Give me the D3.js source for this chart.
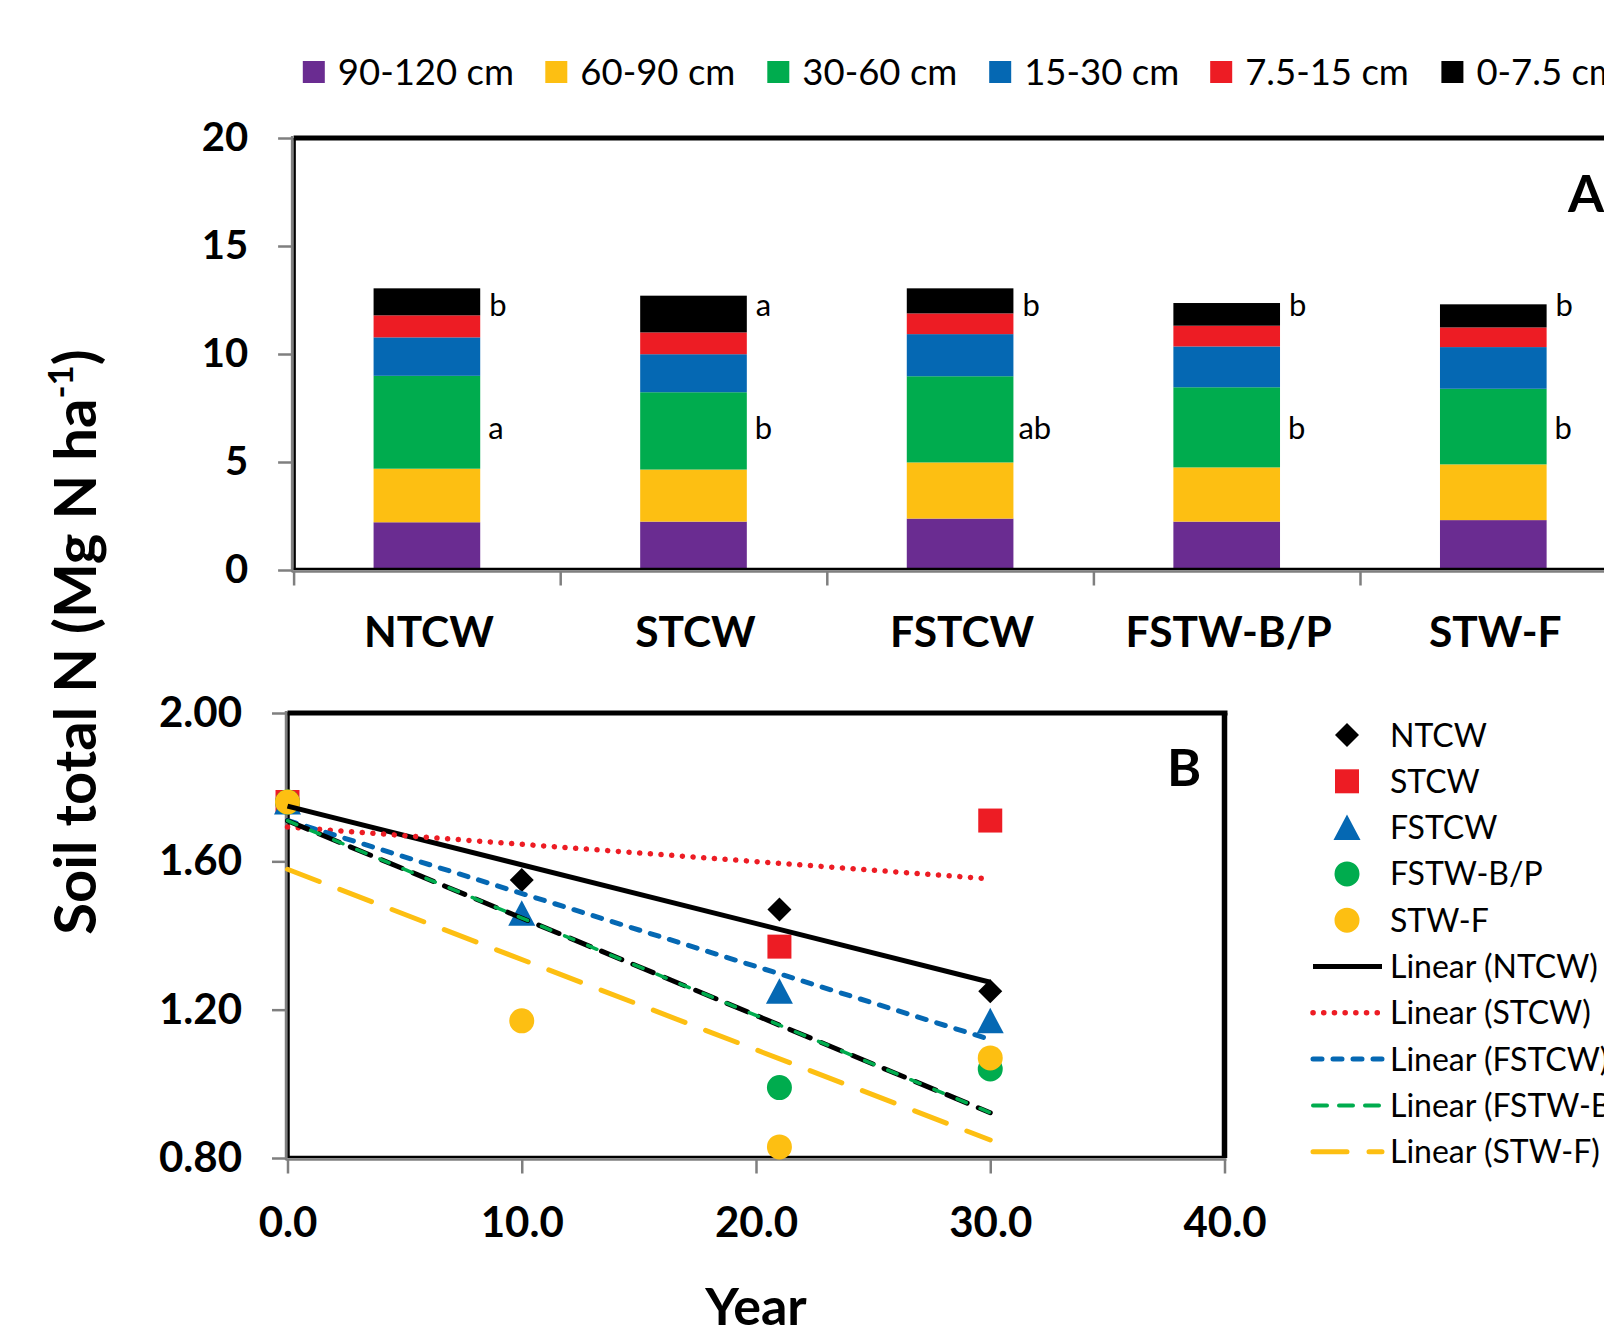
<!DOCTYPE html>
<html><head><meta charset="utf-8">
<script src="https://cdn.jsdelivr.net/npm/d3@7"></script>
<style>
body{margin:0;background:#fff;}
svg{display:block;font-family:Lato,"Open Sans",sans-serif;}
</style>
</head><body>
<svg id="c" width="1604" height="1333"></svg>
<script>
// ---------- Panel A data ----------
const categories = ["NTCW","STCW","FSTCW","FSTW-B/P","STW-F"];
const depthLayers = ["90-120 cm","60-90 cm","30-60 cm","15-30 cm","7.5-15 cm","0-7.5 cm"];
const layerColors = ["#6A2C91","#FDBF12","#00AC4E","#0568B3","#ED1C24","#000000"];
const layer90_120 = [2.21,2.24,2.38,2.24,2.31];
const layer60_90  = [2.48,2.41,2.60,2.51,2.58];
const layer30_60  = [4.30,3.58,3.99,3.71,3.50];
const layer15_30  = [1.78,1.76,1.95,1.89,1.93];
const layer7_15   = [1.02,1.01,0.96,0.96,0.91];
const layer0_7    = [1.25,1.70,1.16,1.05,1.07];
const topLetters = ["b","a","b","b","b"];
const midLetters = ["a","b","ab","b","b"];
const barTicks = [0,5,10,15,20];

// ---------- Panel B data ----------
const seriesNames = ["NTCW","STCW","FSTCW","FSTW-B/P","STW-F"];
const yearsNTCW = [0,10,21,30];    const valsNTCW = [1.76,1.55,1.47,1.25];
const yearsSTCW = [0,21,30];       const valsSTCW = [1.76,1.37,1.71];
const yearsFSTCW = [0,10,21,30];   const valsFSTCW = [1.76,1.46,1.25,1.17];
const yearsFSTWBP = [0,21,30];     const valsFSTWBP = [1.76,0.99,1.04];
const yearsSTWF = [0,10,21,30];    const valsSTWF = [1.76,1.17,0.83,1.07];
const yearTicks = [0,10,20,30,40];
const nTicks = [0.80,1.20,1.60,2.00];

const svg = d3.select("#c");
const FONT = 'Lato,"Open Sans",sans-serif';
const GRAY = "#7f7f7f";

// ================= Panel A =================
const A = {left:293.6, top:138, bottom:570, step:266.6};
const xCat = d3.scaleBand().domain(categories)
  .range([A.left, A.left + A.step*categories.length]).padding(0);
const xEdge = d3.scaleLinear().domain([0,categories.length])
  .range([A.left, A.left + A.step*categories.length]);
const yBar = d3.scaleLinear().domain([0,20]).range([A.bottom, A.top]);

const layerArrays = [layer90_120,layer60_90,layer30_60,layer15_30,layer7_15,layer0_7];
const rows = categories.map((c,i)=>{
  const r = {cat:c};
  depthLayers.forEach((k,j)=>{ r[k] = layerArrays[j][i]; });
  return r;
});
const stacked = d3.stack().keys(depthLayers)(rows);
const bw = xCat.bandwidth();

const gBars = svg.append("g");
stacked.forEach((layer,j)=>{
  gBars.selectAll(null).data(layer).enter().append("rect")
    .attr("x", d=>xCat(d.data.cat)+0.3*bw)
    .attr("width", 0.4*bw)
    .attr("y", d=>yBar(d[1]))
    .attr("height", d=>yBar(d[0])-yBar(d[1]))
    .attr("fill", layerColors[j]);
});

// frame A
svg.append("line").attr("x1",A.left).attr("x2",1610).attr("y1",A.top).attr("y2",A.top)
  .attr("stroke","#000").attr("stroke-width",5);
svg.append("line").attr("x1",A.left+1).attr("x2",A.left+1).attr("y1",A.top).attr("y2",A.bottom)
  .attr("stroke","#000").attr("stroke-width",2.5);
svg.append("line").attr("x1",A.left).attr("x2",1610).attr("y1",A.bottom-1).attr("y2",A.bottom-1)
  .attr("stroke","#000").attr("stroke-width",2.5);
svg.append("line").attr("x1",A.left-1.5).attr("x2",A.left-1.5).attr("y1",A.top-2).attr("y2",A.bottom+2)
  .attr("stroke",GRAY).attr("stroke-width",2.5);
svg.append("line").attr("x1",A.left-2).attr("x2",1610).attr("y1",A.bottom+1.5).attr("y2",A.bottom+1.5)
  .attr("stroke",GRAY).attr("stroke-width",2.5);

// y axis A
const gyA = svg.append("g").attr("transform",`translate(${A.left-1.5},0)`)
  .call(d3.axisLeft(yBar).tickValues(barTicks).tickSize(14).tickPadding(30).tickFormat(d3.format("d")));
gyA.select(".domain").remove();
gyA.attr("font-family",FONT).attr("font-size",40).attr("font-weight",700);
gyA.selectAll(".tick line").attr("stroke",GRAY).attr("stroke-width",2.5);
gyA.selectAll(".tick text").attr("fill","#000");

// x axis ticks A
const gxA = svg.append("g").attr("transform",`translate(0,${A.bottom+1.5})`)
  .call(d3.axisBottom(xEdge).tickValues(d3.range(0,categories.length+1)).tickSize(14).tickFormat(""));
gxA.select(".domain").remove();
gxA.selectAll(".tick line").attr("stroke",GRAY).attr("stroke-width",2.5);

// category labels
svg.append("g").selectAll("text").data(categories).enter().append("text")
  .attr("x", d=>xCat(d)+bw/2+2).attr("y", 647)
  .attr("text-anchor","middle").attr("font-size",42.5).attr("font-weight",700)
  .text(d=>d);

// significance letters
svg.append("g").selectAll("text").data(topLetters).enter().append("text")
  .attr("x", (d,i)=>xCat(categories[i])+0.7*bw+9).attr("y", 316)
  .attr("font-size",31).text(d=>d);
svg.append("g").selectAll("text").data(midLetters).enter().append("text")
  .attr("x", (d,i)=>xCat(categories[i])+0.7*bw+(d==="ab"?5:8)).attr("y", 439)
  .attr("font-size",31).text(d=>d);

svg.append("text").attr("x",1568).attr("y",212).attr("font-size",52).attr("font-weight",700).text("A");

// legend A
const legendAX = [302.8, 545.3, 767.3, 989.2, 1210.2, 1441.4];
const legA = svg.append("g");
depthLayers.forEach((name,j)=>{
  const lx = legendAX[j];
  legA.append("rect").attr("x",lx).attr("y",61).attr("width",22).attr("height",22).attr("fill",layerColors[j]);
  legA.append("text").attr("x",lx+35).attr("y",84.5).attr("font-size",36.5).text(name);
});

// ================= Panel B =================
const B = {left:287.5, right:1224.5, top:713, bottom:1158};
const xYear = d3.scaleLinear().domain([0,40]).range([B.left,B.right]);
const yN = d3.scaleLinear().domain([0.8,2.0]).range([B.bottom,B.top]);

// frame B
svg.append("rect").attr("x",B.left+1).attr("y",B.top).attr("width",B.right-B.left-1).attr("height",B.bottom-B.top-1)
  .attr("fill","none").attr("stroke","#000").attr("stroke-width",2.5);
svg.append("line").attr("x1",B.left).attr("x2",B.right+3).attr("y1",B.top).attr("y2",B.top)
  .attr("stroke","#000").attr("stroke-width",5);
svg.append("line").attr("x1",B.right).attr("x2",B.right).attr("y1",B.top).attr("y2",B.bottom)
  .attr("stroke","#000").attr("stroke-width",5.5);
svg.append("line").attr("x1",B.left-1.5).attr("x2",B.left-1.5).attr("y1",B.top-2).attr("y2",B.bottom+2)
  .attr("stroke",GRAY).attr("stroke-width",2.5);
svg.append("line").attr("x1",B.left-2).attr("x2",B.right+2).attr("y1",B.bottom+1.5).attr("y2",B.bottom+1.5)
  .attr("stroke",GRAY).attr("stroke-width",2.5);

const gyB = svg.append("g").attr("transform",`translate(${B.left-1.5},0)`)
  .call(d3.axisLeft(yN).tickValues(nTicks).tickSize(14).tickPadding(30).tickFormat(d3.format(".2f")));
gyB.select(".domain").remove();
gyB.attr("font-family",FONT).attr("font-size",42).attr("font-weight",700);
gyB.selectAll(".tick line").attr("stroke",GRAY).attr("stroke-width",2.5);
gyB.selectAll(".tick text").attr("fill","#000");

const gxB = svg.append("g").attr("transform",`translate(0,${B.bottom+1.5})`)
  .call(d3.axisBottom(xYear).tickValues(yearTicks).tickSize(14).tickPadding(34).tickFormat(d3.format(".1f")));
gxB.select(".domain").remove();
gxB.attr("font-family",FONT).attr("font-size",42).attr("font-weight",700);
gxB.selectAll(".tick line").attr("stroke",GRAY).attr("stroke-width",2.5);
gxB.selectAll(".tick text").attr("fill","#000");

svg.append("text").attr("x",1167).attr("y",786).attr("font-size",52).attr("font-weight",700).text("B");

// marker shapes
function markerPath(shape, cx, cy){
  const p = d3.path();
  if(shape==="diamond"){ const r=12; p.moveTo(cx,cy-r); p.lineTo(cx+r,cy); p.lineTo(cx,cy+r); p.lineTo(cx-r,cy); p.closePath(); }
  else if(shape==="square"){ const r=12; p.rect(cx-r,cy-r,2*r,2*r); }
  else if(shape==="triangle"){ p.moveTo(cx,cy-13); p.lineTo(cx+13.5,cy+12.5); p.lineTo(cx-13.5,cy+12.5); p.closePath(); }
  else { p.arc(cx,cy,12.5,0,2*Math.PI); }
  return p.toString();
}

const series = [
  {name:seriesNames[0], xs:yearsNTCW,  ys:valsNTCW,  color:"#000000", shape:"diamond",
   styles:[{stroke:"#000",w:5,dash:null,cap:"butt"}], leg:{stroke:"#000",w:5,dash:null,cap:"butt"}},
  {name:seriesNames[1], xs:yearsSTCW,  ys:valsSTCW,  color:"#ED1C24", shape:"square",
   styles:[{stroke:"#ED1C24",w:5.5,dash:"0.1,10.6",cap:"round"}], leg:{stroke:"#ED1C24",w:5.5,dash:"0.1,10.6",cap:"round"}},
  {name:seriesNames[2], xs:yearsFSTCW, ys:valsFSTCW, color:"#0568B3", shape:"triangle",
   styles:[{stroke:"#0568B3",w:5,dash:"9,11",cap:"round"}], leg:{stroke:"#0568B3",w:5,dash:"9,11",cap:"round"}},
  {name:seriesNames[3], xs:yearsFSTWBP,ys:valsFSTWBP,color:"#00AC4E", shape:"circle",
   styles:[{stroke:"#000",w:5,dash:"22,12",cap:"round"},{stroke:"#00AC4E",w:3.5,dash:"10,15",cap:"round"}],
   leg:{stroke:"#00AC4E",w:4,dash:"14,12",cap:"round"}},
  {name:seriesNames[4], xs:yearsSTWF,  ys:valsSTWF,  color:"#FDBF12", shape:"circle",
   styles:[{stroke:"#FDBF12",w:5,dash:"34,22",cap:"round"}], leg:{stroke:"#FDBF12",w:5,dash:"34,22",cap:"round"}}
];

function linreg(xs, ys){
  const mx = d3.mean(xs), my = d3.mean(ys);
  const b = d3.sum(xs,(x,i)=>(x-mx)*(ys[i]-my)) / d3.sum(xs,x=>(x-mx)*(x-mx));
  return {a: my-b*mx, b: b};
}

// markers
const gPts = svg.append("g");
series.forEach(s=>{
  gPts.selectAll(null).data(s.xs.map((x,i)=>[x,s.ys[i]])).enter().append("path")
    .attr("d", d=>markerPath(s.shape, xYear(d[0]), yN(d[1])))
    .attr("fill", s.color);
});

// trendlines (drawn on top of markers)
const gTr = svg.append("g");
series.forEach(s=>{
  const r = linreg(s.xs, s.ys);
  const x0 = d3.min(s.xs), x1 = d3.max(s.xs);
  s.styles.forEach(st=>{
    gTr.append("line")
      .attr("x1", xYear(x0)).attr("y1", yN(r.a + r.b*x0))
      .attr("x2", xYear(x1)).attr("y2", yN(r.a + r.b*x1))
      .attr("stroke", st.stroke).attr("stroke-width", st.w)
      .attr("stroke-dasharray", st.dash).attr("stroke-linecap", st.cap);
  });
});

// legend B
const legB = svg.append("g");
const rowY = i => 735 + i*46.3;
series.forEach((s,i)=>{
  legB.append("path").attr("d", markerPath(s.shape, 1347, rowY(i))).attr("fill", s.color);
  legB.append("text").attr("x",1390).attr("y",rowY(i)+11.5).attr("font-size",32).text(s.name);
});
series.forEach((s,i)=>{
  const y = rowY(i+5);
  const st = s.leg;
  legB.append("line").attr("x1",1313).attr("x2",1382).attr("y1",y).attr("y2",y)
    .attr("stroke", st.stroke).attr("stroke-width", st.w)
    .attr("stroke-dasharray", st.dash).attr("stroke-linecap", st.cap);
  legB.append("text").attr("x",1390).attr("y",y+11.5).attr("font-size",32).text("Linear (" + s.name + ")");
});

// axis titles
svg.append("text").attr("x",(B.left+B.right)/2).attr("y",1325)
  .attr("text-anchor","middle").attr("font-size",52).attr("font-weight",700).text("Year");

const yt = svg.append("text").attr("transform","translate(96,642) rotate(-90)")
  .attr("text-anchor","middle").attr("font-size",58).attr("font-weight",700);
yt.append("tspan").text("Soil total N (Mg N ha");
yt.append("tspan").attr("font-size",35).attr("dy",-23).text("-1");
yt.append("tspan").attr("dy",23).text(")");
</script>
</body></html>
